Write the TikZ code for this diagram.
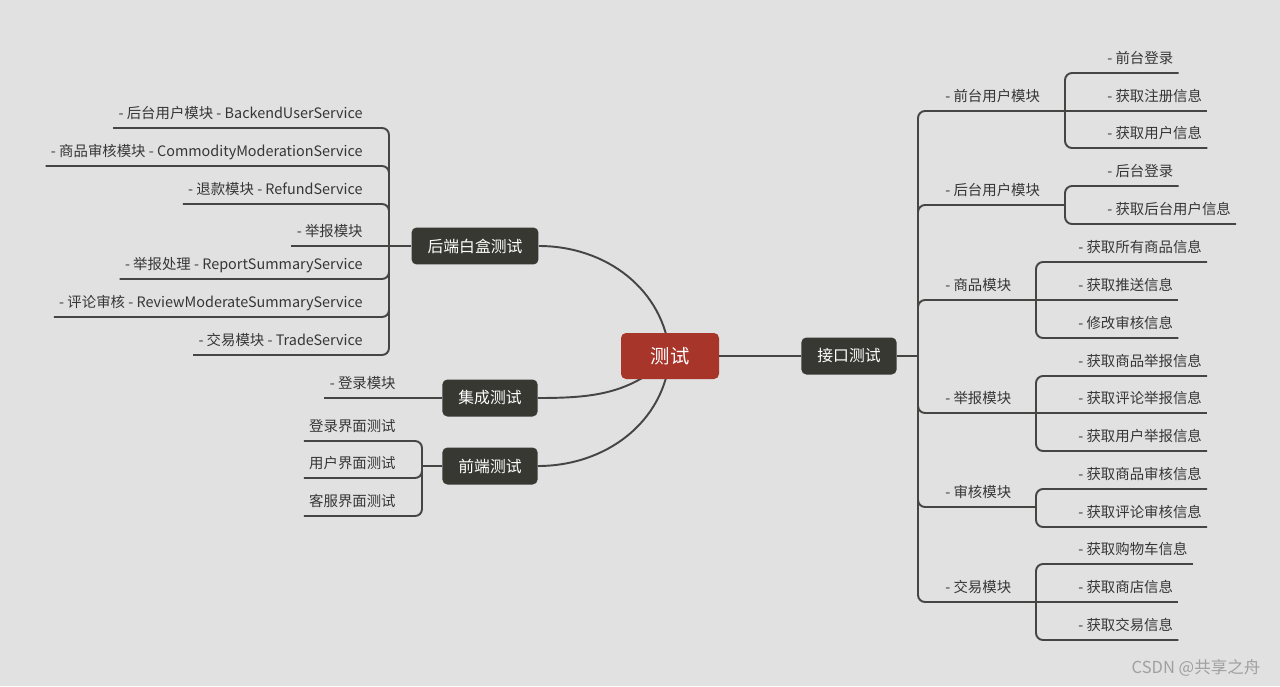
\documentclass[tikz,border=0pt]{standalone}
\usepackage{fontspec}
\setmainfont{Noto Sans CJK SC}
\usepackage{xcolor}
\usepackage{tikz}
\usetikzlibrary{positioning,calc}
\definecolor{mmfond}{HTML}{E1E1E1}
\definecolor{mmtheme}{HTML}{383832}
\definecolor{mmracine}{HTML}{A8352A}
\definecolor{mmtrait}{HTML}{454543}
\definecolor{mmtexte}{HTML}{363636}
\definecolor{mmfiligrane}{HTML}{A0A0A0}

\tikzset{
  racine/.style={fill=mmracine, text=white, rounded corners=0.1cm,
    font=\fontsize{11}{13}\selectfont, minimum width=1.96cm,
    minimum height=0.92cm, inner sep=0pt},
  theme/.style={fill=mmtheme, text=white, rounded corners=0.1cm,
    font=\fontsize{9}{11}\selectfont, minimum height=0.74cm,
    inner xsep=0.32cm, inner ysep=0pt},
  feuille/.style={text=mmtexte, font=\fontsize{8.2}{10}\selectfont,
    inner xsep=0.1cm, inner ysep=0pt, text height=0.28cm, text depth=0.19cm},
  branche/.style={draw=mmtrait, line width=1.1pt, rounded corners=0.14cm},
}

\begin{document}
\begin{tikzpicture}[x=0.02cm, y=-0.02cm]
  % Fond
  \useasboundingbox (0,0) rectangle (1280,686);
  \fill[mmfond] (0,0) rectangle (1280,686);
  % Themes principaux
  \coordinate (ctr) at (670,356);
  \node[theme] (api) at (849,356) {接口测试};
  \node[theme] (back) at (475,246) {后端白盒测试};
  \node[theme] (integ) at (490,398) {集成测试};
  \node[theme] (front) at (490,466) {前端测试};
  % Liaisons courbes vers le centre
  \draw[branche] (ctr) to[out=95,in=0] (back.east);
  \draw[branche] (ctr) to[out=-135,in=0] (integ.east);
  \draw[branche] (ctr) to[out=-95,in=0] (front.east);
  % Noeud central
  \node[racine] (test) at (ctr) {测试};
  \draw[branche] (test) -- (api);

  % --- Interface : tronc ---
  \coordinate (jApi) at (918,356);
  \draw[branche] (api) -- (jApi);
  % Module utilisateur front
  \node[feuille, anchor=south west] (fUser) at (940,111) {- 前台用户模块};
  \coordinate (jFUser) at (1065,111);
  \draw[branche] (jApi) |- (jFUser);
  \node[feuille, anchor=south west] (fLogin) at (1102,73) {- 前台登录};
  \node[feuille, anchor=south west] (fReg) at (1102,111) {- 获取注册信息};
  \node[feuille, anchor=south west] (fInfo) at (1102,148) {- 获取用户信息};
  \draw[branche] (jFUser) |- (fLogin.south east);
  \draw[branche] (jFUser) -- (fReg.south east);
  \draw[branche] (jFUser) |- (fInfo.south east);
  % Module utilisateur back
  \node[feuille, anchor=south west] (bUser) at (940,205) {- 后台用户模块};
  \coordinate (jBUser) at (1065,205);
  \draw[branche] (jApi) |- (jBUser);
  \node[feuille, anchor=south west] (bLogin) at (1102,186) {- 后台登录};
  \node[feuille, anchor=south west] (bInfo) at (1102,224) {- 获取后台用户信息};
  \draw[branche] (jBUser) |- (bLogin.south east);
  \draw[branche] (jBUser) |- (bInfo.south east);
  % Module produits
  \node[feuille, anchor=south west] (goods) at (940,300) {- 商品模块};
  \coordinate (jGoods) at (1036,300);
  \draw[branche] (jApi) |- (jGoods);
  \node[feuille, anchor=south west] (gAll) at (1073,262) {- 获取所有商品信息};
  \node[feuille, anchor=south west] (gPush) at (1073,300) {- 获取推送信息};
  \node[feuille, anchor=south west] (gEdit) at (1073,338) {- 修改审核信息};
  \draw[branche] (jGoods) |- (gAll.south east);
  \draw[branche] (jGoods) -- (gPush.south east);
  \draw[branche] (jGoods) |- (gEdit.south east);
  % Module signalement
  \node[feuille, anchor=south west] (report) at (940,413) {- 举报模块};
  \coordinate (jReport) at (1036,413);
  \draw[branche] (jApi) |- (jReport);
  \node[feuille, anchor=south west] (rGoods) at (1073,376) {- 获取商品举报信息};
  \node[feuille, anchor=south west] (rCmt) at (1073,413) {- 获取评论举报信息};
  \node[feuille, anchor=south west] (rUser) at (1073,451) {- 获取用户举报信息};
  \draw[branche] (jReport) |- (rGoods.south east);
  \draw[branche] (jReport) -- (rCmt.south east);
  \draw[branche] (jReport) |- (rUser.south east);
  % Module moderation
  \node[feuille, anchor=south west] (audit) at (940,507) {- 审核模块};
  \coordinate (jAudit) at (1036,507);
  \draw[branche] (jApi) |- (jAudit);
  \node[feuille, anchor=south west] (aGoods) at (1073,489) {- 获取商品审核信息};
  \node[feuille, anchor=south west] (aCmt) at (1073,527) {- 获取评论审核信息};
  \draw[branche] (jAudit) |- (aGoods.south east);
  \draw[branche] (jAudit) |- (aCmt.south east);
  % Module transactions
  \node[feuille, anchor=south west] (trade) at (940,602) {- 交易模块};
  \coordinate (jTrade) at (1036,602);
  \draw[branche] (jApi) |- (jTrade);
  \node[feuille, anchor=south west] (tCart) at (1073,564) {- 获取购物车信息};
  \node[feuille, anchor=south west] (tShop) at (1073,602) {- 获取商店信息};
  \node[feuille, anchor=south west] (tInfo) at (1073,640) {- 获取交易信息};
  \draw[branche] (jTrade) |- (tCart.south east);
  \draw[branche] (jTrade) -- (tShop.south east);
  \draw[branche] (jTrade) |- (tInfo.south east);

  % --- Boite blanche back-end ---
  \coordinate (jBack) at (389,246);
  \draw[branche] (back) -- (jBack);
  \node[feuille, anchor=south east] (sUser) at (368,128) {- 后台用户模块 - BackendUserService};
  \node[feuille, anchor=south east] (sMod) at (368,166) {- 商品审核模块 - CommodityModerationService};
  \node[feuille, anchor=south east] (sRefund) at (368,204) {- 退款模块 - RefundService};
  \node[feuille, anchor=south east] (sReport) at (368,246) {- 举报模块};
  \node[feuille, anchor=south east] (sSum) at (368,279) {- 举报处理 - ReportSummaryService};
  \node[feuille, anchor=south east] (sReview) at (368,317) {- 评论审核 - ReviewModerateSummaryService};
  \node[feuille, anchor=south east] (sTrade) at (368,355) {- 交易模块 - TradeService};
  \draw[branche] (jBack) |- (sUser.south west);
  \draw[branche] (jBack) |- (sMod.south west);
  \draw[branche] (jBack) |- (sRefund.south west);
  \draw[branche] (jBack) -- (sReport.south west);
  \draw[branche] (jBack) |- (sSum.south west);
  \draw[branche] (jBack) |- (sReview.south west);
  \draw[branche] (jBack) |- (sTrade.south west);

  % --- Integration ---
  \node[feuille, anchor=south east] (iLogin) at (401,398) {- 登录模块};
  \draw[branche] (integ) -- (iLogin.south west);

  % --- Front-end ---
  \coordinate (jFront) at (422,466);
  \draw[branche] (front) -- (jFront);
  \node[feuille, anchor=south east] (uiLogin) at (401,441) {登录界面测试};
  \node[feuille, anchor=south east] (uiUser) at (401,478) {用户界面测试};
  \node[feuille, anchor=south east] (uiCs) at (401,516) {客服界面测试};
  \draw[branche] (jFront) |- (uiLogin.south west);
  \draw[branche] (jFront) |- (uiUser.south west);
  \draw[branche] (jFront) |- (uiCs.south west);

  % Filigrane
  \node[text=mmfiligrane, font=\fontsize{9.4}{11}\selectfont, inner sep=0pt] (wm) at (1196,668) {CSDN @共享之舟};
\end{tikzpicture}
\end{document}
